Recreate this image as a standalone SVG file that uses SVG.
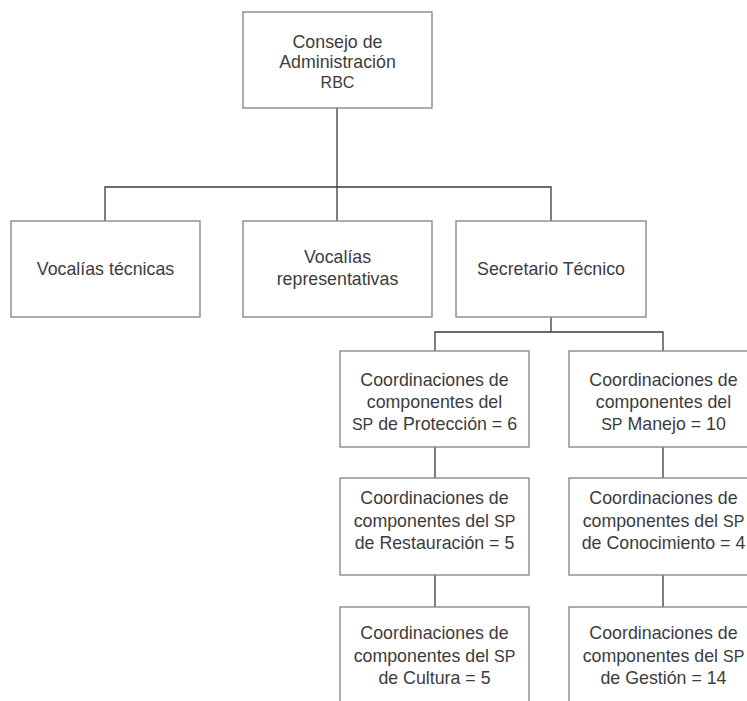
<svg xmlns="http://www.w3.org/2000/svg" width="747" height="701" viewBox="0 0 747 701">
  <style>
    .box { fill: #ffffff; stroke: #8a8a8a; stroke-width: 1.4; }
    .conn { fill: none; stroke: #3a3a3a; stroke-width: 1.3; }
    text { font-family: "Liberation Sans", Arial, sans-serif; font-size: 17.8px; fill: #3c3c3c; text-anchor: middle; }
    .sc { font-size: 16px; }
  </style>
  <rect width="747" height="701" fill="#ffffff"/>

  <g id="connectors">
    <path class="conn" d="M337 108 V187 M105 221 V187 H551 V221 M337 187 V221"/>
    <path class="conn" d="M551 317 V332 M435 351 V332 H663 V351"/>
    <path class="conn" d="M435 447 V478 M435 575 V607"/>
    <path class="conn" d="M663 447 V478 M663 575 V607"/>
  </g>

  <g id="consejo">
    <rect class="box" x="243" y="12" width="189" height="96"/>
    <text x="337.5" y="48">Consejo de</text>
    <text x="337.5" y="68">Administración</text>
    <text x="337.5" y="88" class="sc">RBC</text>
  </g>

  <g id="vocalias-tecnicas">
    <rect class="box" x="11" y="221" width="189" height="96"/>
    <text x="105.5" y="275">Vocalías técnicas</text>
  </g>

  <g id="vocalias-representativas">
    <rect class="box" x="243" y="221" width="189" height="96"/>
    <text x="337.5" y="263">Vocalías</text>
    <text x="337.5" y="285">representativas</text>
  </g>

  <g id="secretario-tecnico">
    <rect class="box" x="456" y="221" width="190" height="96"/>
    <text x="551" y="275">Secretario Técnico</text>
  </g>

  <g id="sp-proteccion">
    <rect class="box" x="340" y="351" width="189" height="96"/>
    <text x="434.5" y="386">Coordinaciones de</text>
    <text x="434.5" y="408">componentes del</text>
    <text x="434.5" y="430"><tspan class="sc">SP</tspan> de Protección = 6</text>
  </g>

  <g id="sp-manejo">
    <rect class="box" x="569" y="351" width="189" height="96"/>
    <text x="663.5" y="386">Coordinaciones de</text>
    <text x="663.5" y="408">componentes del</text>
    <text x="663.5" y="430"><tspan class="sc">SP</tspan> Manejo = 10</text>
  </g>

  <g id="sp-restauracion">
    <rect class="box" x="340" y="478" width="189" height="97"/>
    <text x="434.5" y="504">Coordinaciones de</text>
    <text x="434.5" y="527">componentes del <tspan class="sc">SP</tspan></text>
    <text x="434.5" y="549">de Restauración = 5</text>
  </g>

  <g id="sp-conocimiento">
    <rect class="box" x="569" y="478" width="189" height="97"/>
    <text x="663.5" y="504">Coordinaciones de</text>
    <text x="663.5" y="527">componentes del <tspan class="sc">SP</tspan></text>
    <text x="663.5" y="549">de Conocimiento = 4</text>
  </g>

  <g id="sp-cultura">
    <rect class="box" x="340" y="607" width="189" height="110"/>
    <text x="434.5" y="639">Coordinaciones de</text>
    <text x="434.5" y="662">componentes del <tspan class="sc">SP</tspan></text>
    <text x="434.5" y="684">de Cultura = 5</text>
  </g>

  <g id="sp-gestion">
    <rect class="box" x="569" y="607" width="189" height="110"/>
    <text x="663.5" y="639">Coordinaciones de</text>
    <text x="663.5" y="662">componentes del <tspan class="sc">SP</tspan></text>
    <text x="663.5" y="684">de Gestión = 14</text>
  </g>
</svg>
